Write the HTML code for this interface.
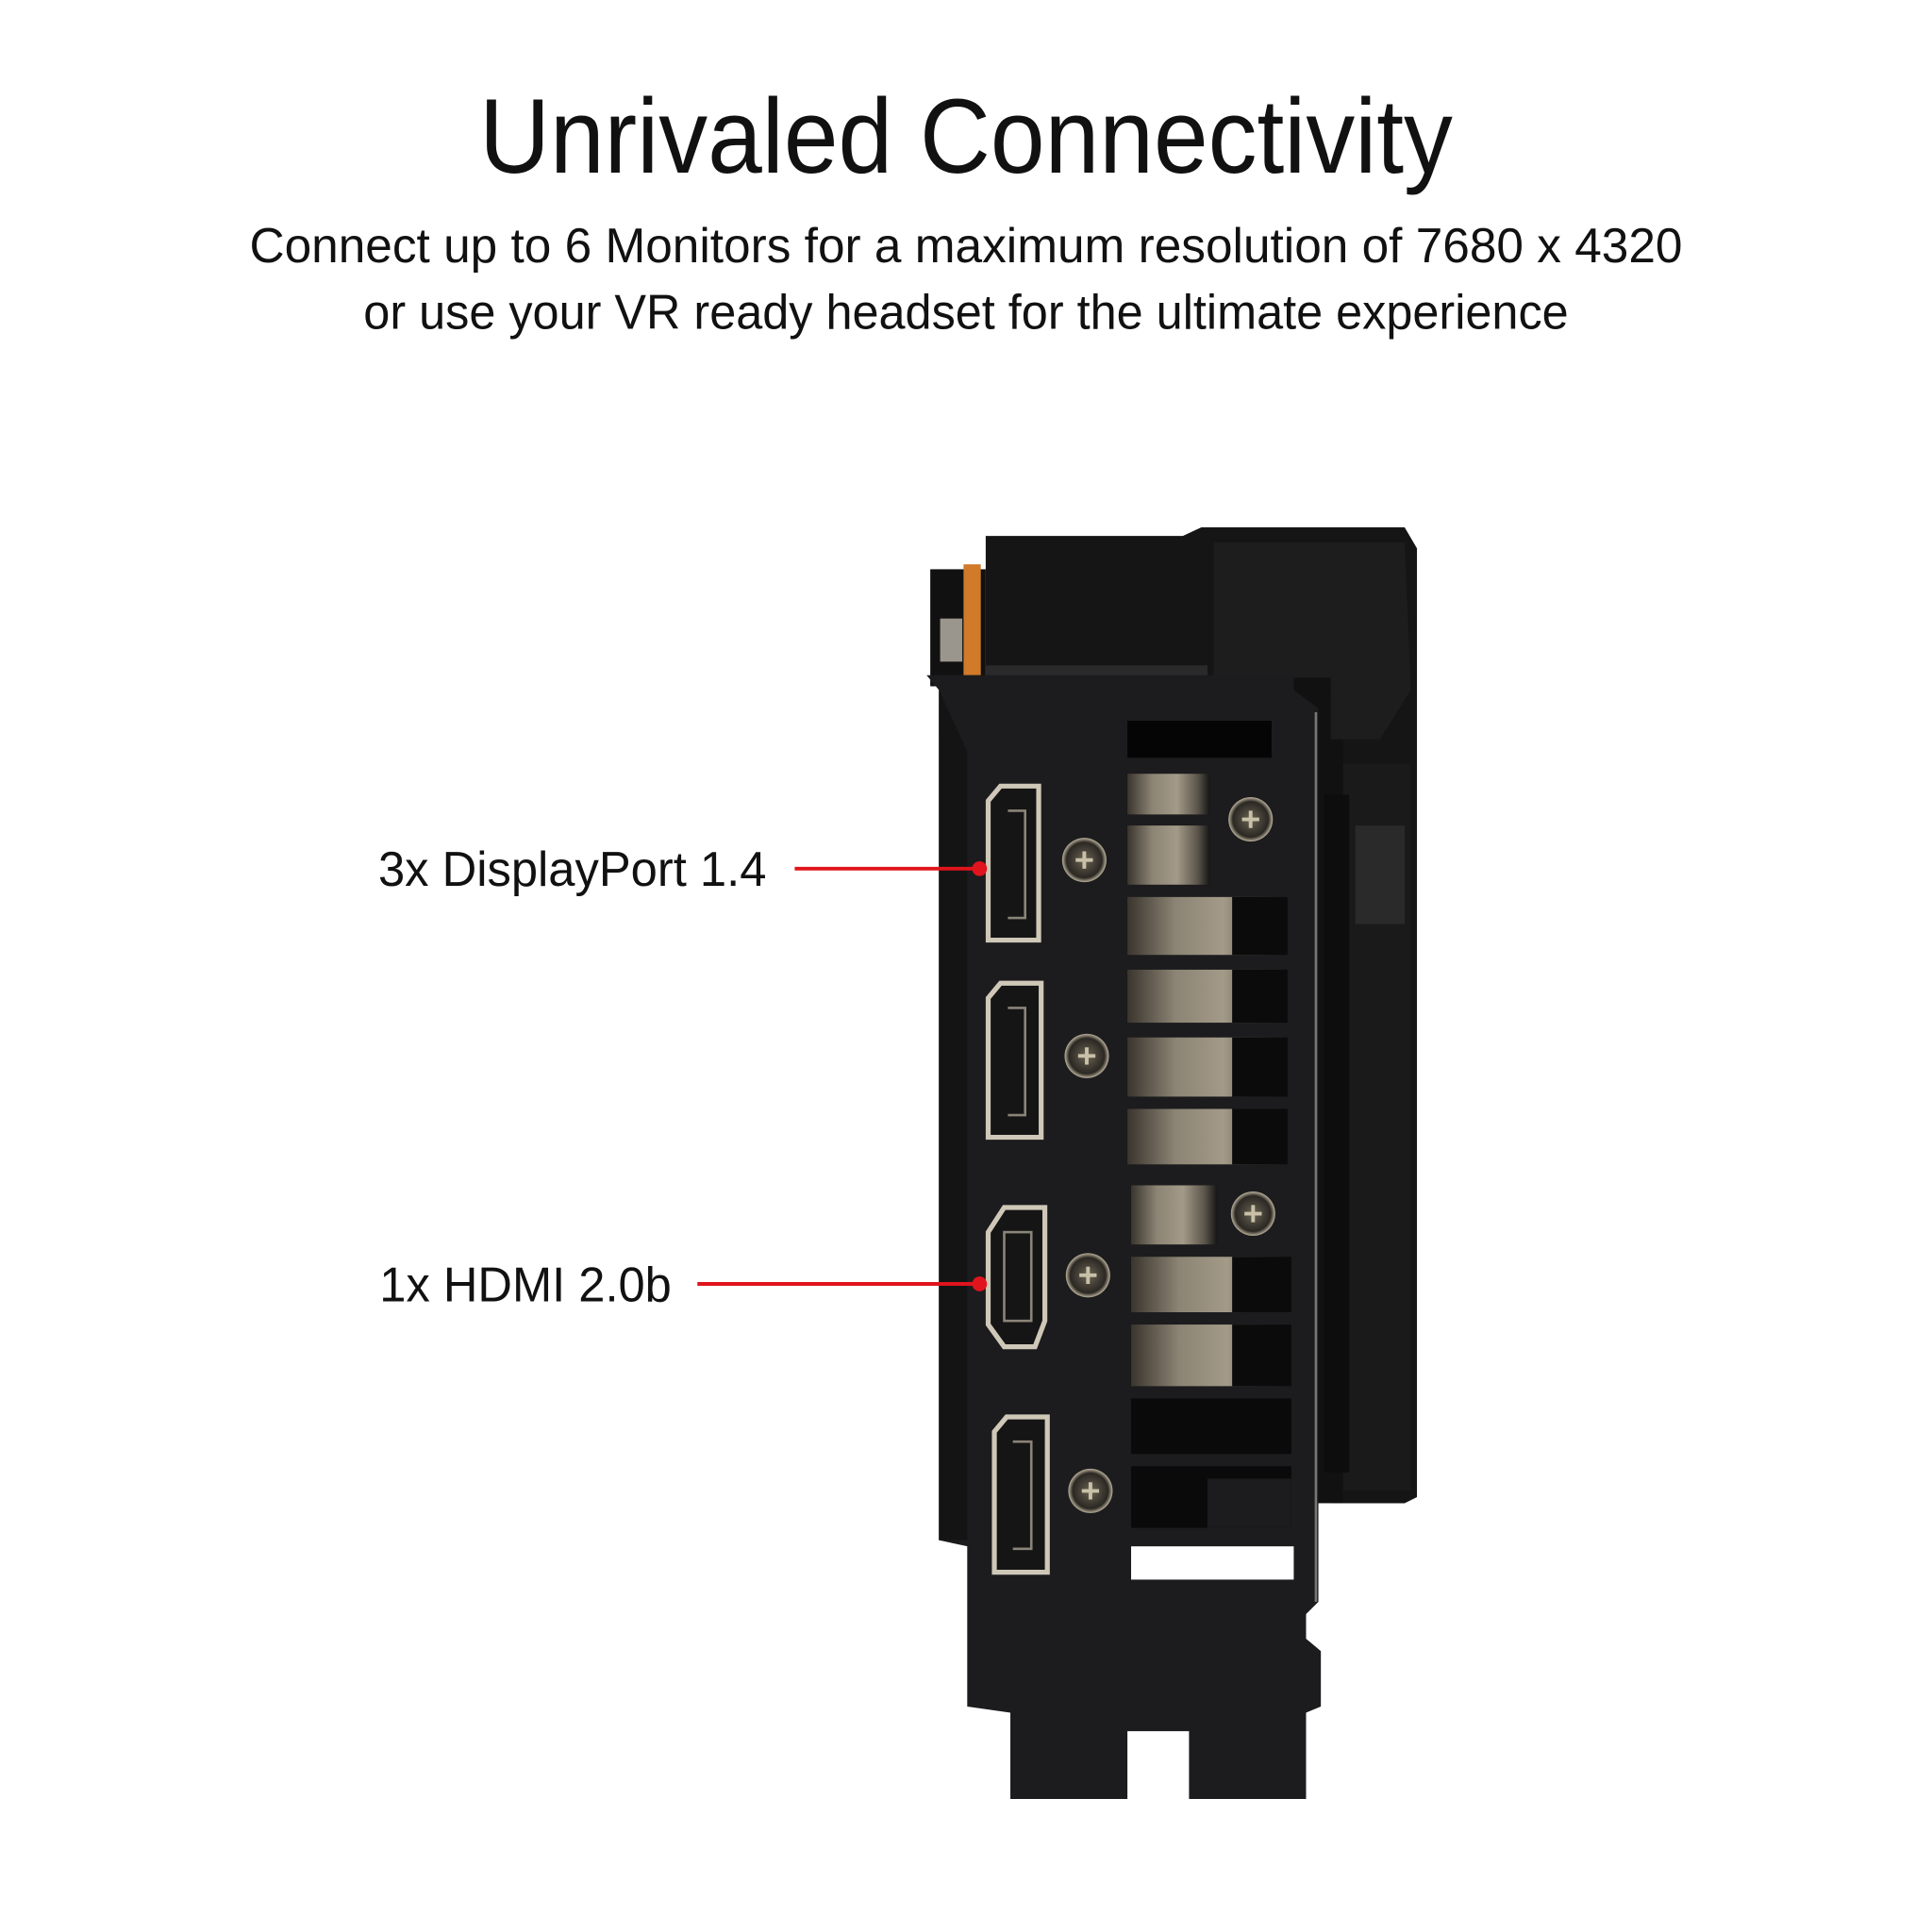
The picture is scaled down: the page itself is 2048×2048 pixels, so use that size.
<!DOCTYPE html>
<html><head><meta charset="utf-8"><style>
html,body{margin:0;padding:0;background:#fff;}
svg{display:block}
text{font-family:"Liberation Sans",sans-serif;fill:#111;}
</style></head><body>
<svg width="2048" height="2048" viewBox="0 0 1568 1568" xmlns="http://www.w3.org/2000/svg">
<defs>
<linearGradient id="metal" x1="0" x2="1" y1="0" y2="0">
<stop offset="0" stop-color="#3a352e"/><stop offset="0.3" stop-color="#8c8474"/><stop offset="0.6" stop-color="#a39a88"/><stop offset="0.85" stop-color="#5b554b"/><stop offset="1" stop-color="#151515"/>
</linearGradient>
<radialGradient id="scr"><stop offset="0" stop-color="#6b6455"/><stop offset="0.8" stop-color="#2b2823"/><stop offset="1" stop-color="#b9b09a"/></radialGradient>
</defs>
<text x="784" y="140" font-size="86" text-anchor="middle" textLength="790" lengthAdjust="spacingAndGlyphs">Unrivaled Connectivity</text>
<text x="784" y="213" font-size="40" text-anchor="middle" textLength="1163" lengthAdjust="spacingAndGlyphs">Connect up to 6 Monitors for a maximum resolution of 7680 x 4320</text>
<text x="784" y="267" font-size="40" text-anchor="middle" textLength="978" lengthAdjust="spacingAndGlyphs">or use your VR ready headset for the ultimate experience</text>

<polygon points="800,435 960,435 975,428 1140,428 1150,445 1150,1215 1140,1220 1080,1220 1080,550 800,550" fill="#151515"/>
<rect x="1040" y="545" width="45" height="80" fill="#111"/>
<rect x="1062" y="560" width="28" height="660" fill="#111"/>
<polygon points="985,440 1140,440 1145,560 1120,600 1080,600 1080,550 985,550" fill="#1d1d1d"/>
<rect x="1090" y="620" width="55" height="590" fill="#1a1a1a"/>
<rect x="1075" y="645" width="20" height="550" fill="#0d0d0d"/>
<rect x="1100" y="670" width="40" height="80" fill="#2a2a2a"/>
<rect x="755" y="462" width="45" height="95" fill="#111"/>
<rect x="782" y="458" width="14" height="90" fill="#d07a2a"/>
<rect x="763" y="502" width="18" height="35" fill="#9a968e"/>
<rect x="800" y="540" width="180" height="15" fill="#2a2a2a"/>
<polygon points="752,548 1050,548 1050,560 1070,575 1070,1300 1060,1310 1060,1330 1072,1340 1072,1385 1060,1390 1060,1460 965,1460 965,1405 915,1405 915,1460 820,1460 820,1390 785,1385 785,1255 762,1250 762,560" fill="#1c1c1e"/>
<line x1="1068" y1="578" x2="1068" y2="1300" stroke="#777" stroke-width="2"/>
<polygon points="762,560 785,610 785,1250 762,1250" fill="#141414"/>
<g fill="url(#metal)">
<rect x="915" y="585" width="117" height="30" fill="#050505"/>
<rect x="915" y="628" width="67" height="33"/>
<rect x="915" y="670" width="67" height="48"/>
<rect x="915" y="728" width="130" height="47"/>
<rect x="915" y="787" width="130" height="43"/>
<rect x="915" y="842" width="130" height="48"/>
<rect x="915" y="900" width="130" height="45"/>
<rect x="918" y="962" width="70" height="48"/>
<rect x="918" y="1020" width="130" height="45"/>
<rect x="918" y="1075" width="130" height="50"/>
<rect x="918" y="1135" width="130" height="45" fill="#0a0a0a"/>
<rect x="918" y="1190" width="130" height="50" fill="#0a0a0a"/>
</g>
<g fill="#0b0b0b">
<rect x="1000" y="728" width="45" height="47"/><rect x="1000" y="787" width="45" height="43"/><rect x="1000" y="842" width="45" height="48"/><rect x="1000" y="900" width="45" height="45"/><rect x="1000" y="1020" width="48" height="45"/><rect x="1000" y="1075" width="48" height="50"/>
<rect x="980" y="1200" width="68" height="40" fill="#1c1c1e"/>
</g>
<rect x="918" y="1255" width="132" height="27" fill="#fff"/>
<g fill="#151515" stroke="#cfc8b8" stroke-width="4">
<path d="M802,650 L812,638 L843,638 L843,763 L802,763 Z"/>
<path d="M802,810 L812,798 L845,798 L845,923 L802,923 Z"/>
<path d="M802,1000 L815,980 L848,980 L848,1072 L840,1093 L815,1093 L802,1075 Z"/>
<path d="M807,1162 L817,1150 L850,1150 L850,1276 L807,1276 Z"/>
</g>
<g fill="none" stroke="#8a8478" stroke-width="2">
<path d="M818,658 L832,658 L832,745 L818,745"/><path d="M818,818 L832,818 L832,905 L818,905"/><path d="M822,1170 L837,1170 L837,1257 L822,1257"/>
<rect x="815" y="1000" width="22" height="72"/>
</g>
<g>
<circle cx="880" cy="698" r="18" fill="url(#scr)"/><circle cx="882" cy="857" r="18" fill="url(#scr)"/><circle cx="883" cy="1035" r="18" fill="url(#scr)"/><circle cx="885" cy="1210" r="18" fill="url(#scr)"/><circle cx="1015" cy="665" r="18" fill="url(#scr)"/><circle cx="1017" cy="985" r="18" fill="url(#scr)"/>
</g>
<g stroke="#c9c0a8" stroke-width="3">
<path d="M873,698h14M880,691v14"/><path d="M875,857h14M882,850v14"/><path d="M876,1035h14M883,1028v14"/><path d="M878,1210h14M885,1203v14"/><path d="M1008,665h14M1015,658v14"/><path d="M1010,985h14M1017,978v14"/>
</g>
<text x="307" y="719" font-size="40" textLength="315" lengthAdjust="spacingAndGlyphs">3x DisplayPort 1.4</text>
<text x="308" y="1056" font-size="40" textLength="237" lengthAdjust="spacingAndGlyphs">1x HDMI 2.0b</text>
<line x1="645" y1="705" x2="795" y2="705" stroke="#e0141c" stroke-width="3"/>
<circle cx="795" cy="705" r="6" fill="#e0141c"/>
<line x1="566" y1="1042" x2="795" y2="1042" stroke="#e0141c" stroke-width="3"/>
<circle cx="795" cy="1042" r="6" fill="#e0141c"/>
</svg>
</body></html>
